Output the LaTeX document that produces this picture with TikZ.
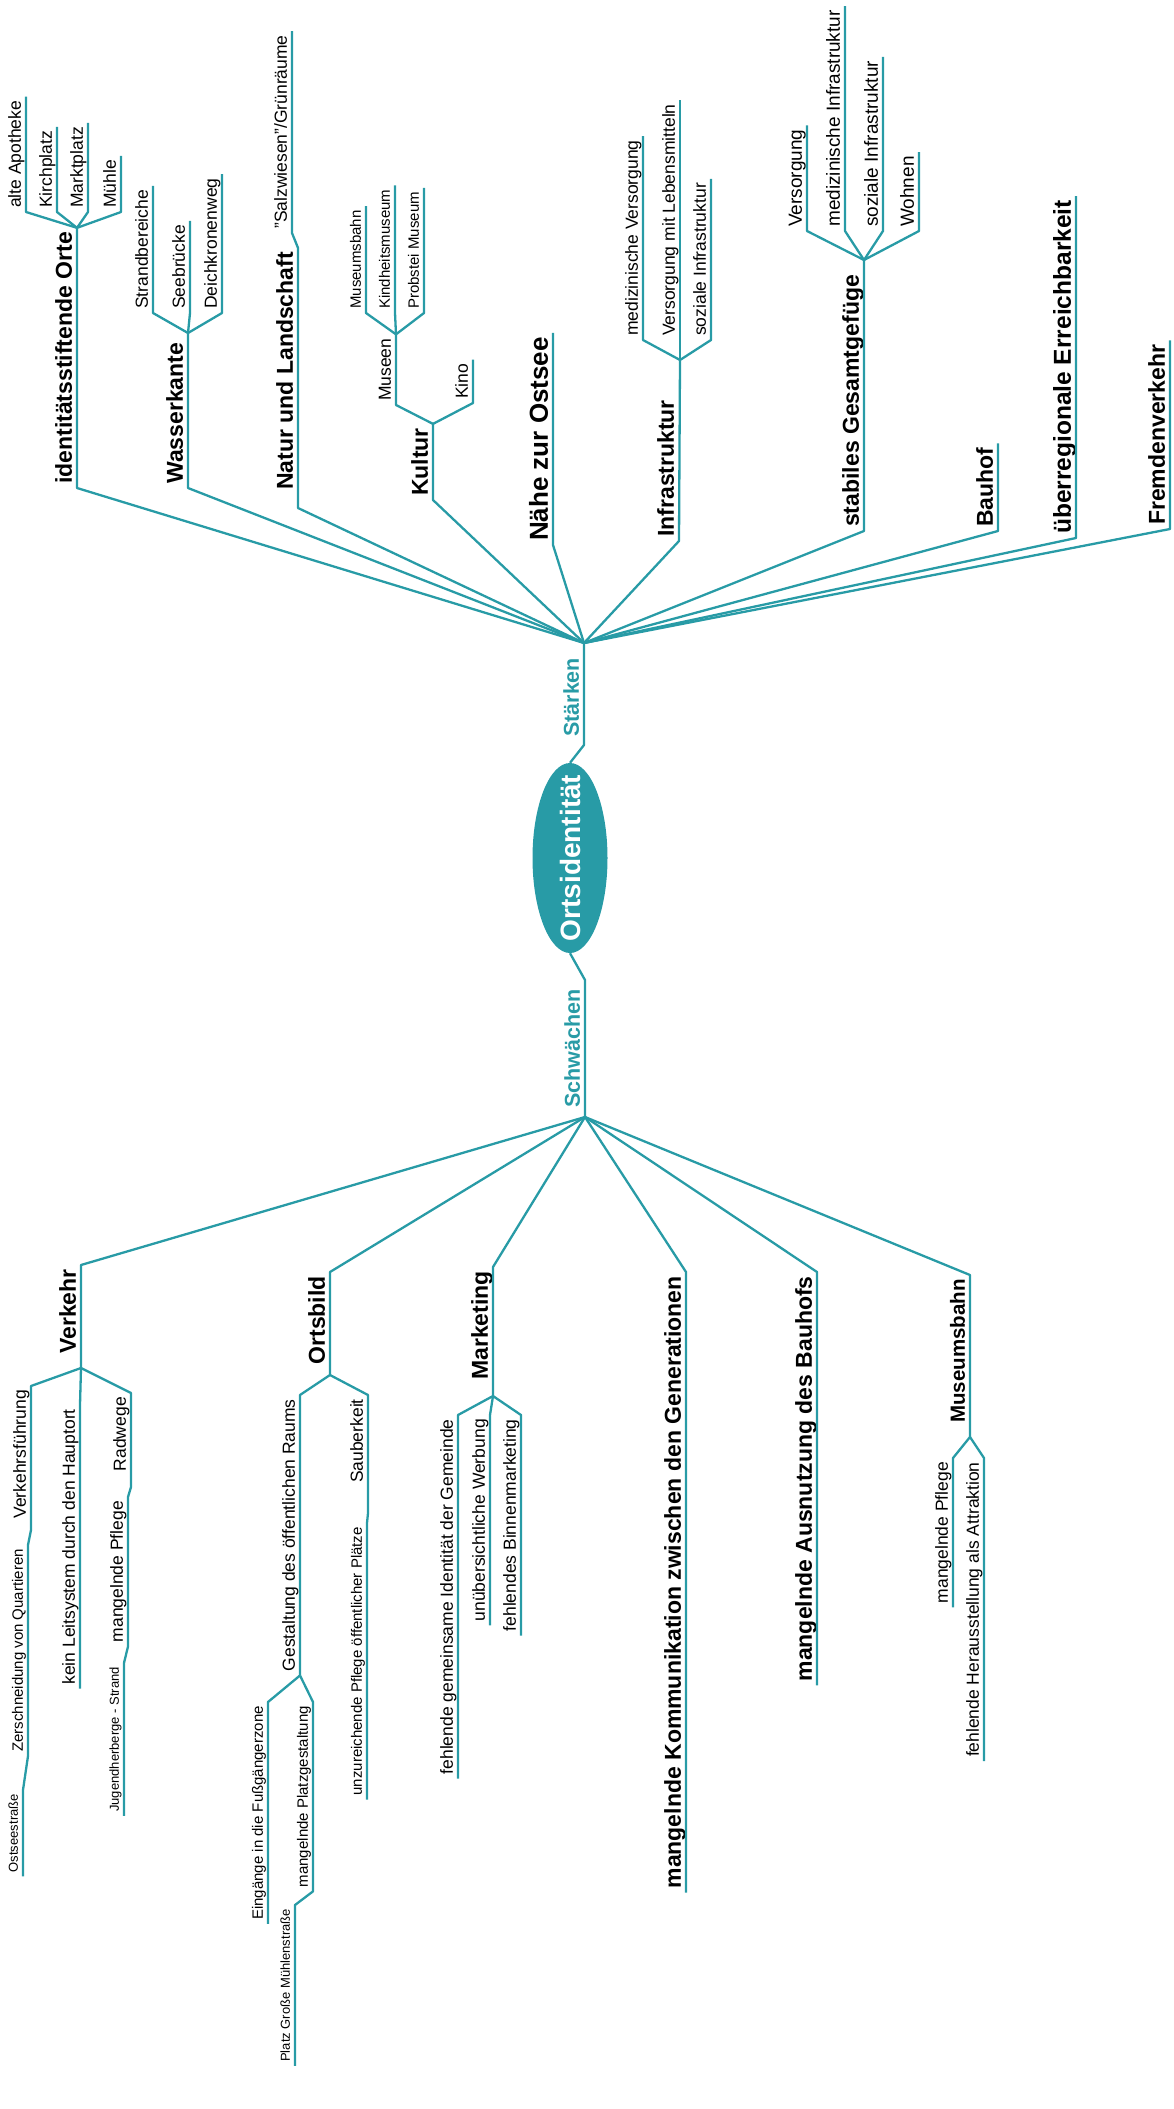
\documentclass[tikz,border=0pt]{standalone}
\usepackage{fontspec}
\setmainfont{Liberation Sans}
\usetikzlibrary{shapes.geometric}
\definecolor{mapteal}{RGB}{40,155,166}

\begin{document}
\begin{tikzpicture}[x=1pt, y=-1pt,
    branch/.style={draw=mapteal, line width=2.3pt, line join=round},
    lbl/.style={rotate=90, inner xsep=4pt, inner ysep=5pt, text depth=0pt},
    topic/.style={lbl, font=\fontsize{23}{27}\selectfont\bfseries},
    leaf/.style={lbl, font=\fontsize{17.5}{21}\selectfont},
    twig/.style={lbl, font=\fontsize{15}{18}\selectfont},
    smallleaf/.style={lbl, font=\fontsize{13}{16}\selectfont}]
\useasboundingbox (0,0) rectangle (1173,2109);

% centre and the two stems
\node[ellipse, fill=mapteal, rotate=90, minimum width=190pt, minimum height=75pt, inner sep=0pt, text=white, font=\fontsize{28}{32}\selectfont\bfseries] (ortsid) at (570,858) {\makebox[110pt]{Ortsidentität}};
\coordinate (sJ) at (584,643);
\coordinate (wJ) at (585,1117);
\draw[branch] (ortsid.east) -- (584,745) -- (sJ);
\draw[branch] (ortsid.west) -- (585,980) -- (wJ);
\node[lbl, anchor=south west, text=mapteal, font=\fontsize{21.5}{25}\selectfont\bfseries] (staerken) at (584,741) {Stärken};
\node[lbl, anchor=south west, text=mapteal, font=\fontsize{21.5}{25}\selectfont\bfseries] (schwaechen) at (585,1112) {Schwächen};

%% Staerken, growing upwards
\node[topic, anchor=south west] (orte) at (77,488) {identitätsstiftende Orte};
\draw[branch] (sJ) -- (orte.south west) -- (orte.south east);
\node[leaf, anchor=south west] (apotheke) at (26,212) {alte Apotheke};
\node[leaf, anchor=south west] (kirchplatz) at (57,212) {Kirchplatz};
\node[leaf, anchor=south west] (marktplatz) at (88,212) {Marktplatz};
\node[leaf, anchor=south west] (muehle) at (121,212) {Mühle};
\draw[branch] (orte.south east) -- (apotheke.south west) -- (apotheke.south east);
\draw[branch] (orte.south east) -- (kirchplatz.south west) -- (kirchplatz.south east);
\draw[branch] (orte.south east) -- (marktplatz.south west) -- (marktplatz.south east);
\draw[branch] (orte.south east) -- (muehle.south west) -- (muehle.south east);

\node[topic, anchor=south west] (wasser) at (188,488) {Wasserkante};
\coordinate (wasserJ) at (188,333);
\draw[branch] (sJ) -- (wasser.south west) -- (wasserJ);
\node[leaf, anchor=south west] (strand) at (153,313) {Strandbereiche};
\node[leaf, anchor=south west] (seebruecke) at (190,313) {Seebrücke};
\node[leaf, anchor=south west] (deich) at (222,313) {Deichkronenweg};
\draw[branch] (wasserJ) -- (strand.south west) -- (strand.south east);
\draw[branch] (wasserJ) -- (seebruecke.south west) -- (seebruecke.south east);
\draw[branch] (wasserJ) -- (deich.south west) -- (deich.south east);

\node[topic, anchor=south west] (natur) at (298,494) {Natur und Landschaft};
\node[leaf, anchor=south west] (salz) at (292,233) {"Salzwiesen"/Grünräume};
\draw[branch] (sJ) -- (298,508) -- (natur.south east) -- (salz.south west) -- (salz.south east);

\node[topic, anchor=south west] (kultur) at (433,500) {Kultur};
\draw[branch] (sJ) -- (kultur.south west) -- (kultur.south east);
\node[leaf, anchor=south west] (museen) at (396,405) {Museen};
\node[leaf, anchor=south west] (kino) at (473,403) {Kino};
\draw[branch] (kultur.south east) -- (museen.south west) -- (museen.south east);
\draw[branch] (kultur.south east) -- (kino.south west) -- (kino.south east);
\node[twig, anchor=south west] (bahn) at (366,313) {Museumsbahn};
\node[twig, anchor=south west] (kindheit) at (395,313) {Kindheitsmuseum};
\node[twig, anchor=south west] (probstei) at (424,313) {Probstei Museum};
\draw[branch] (museen.south east) -- (bahn.south west) -- (bahn.south east);
\draw[branch] (museen.south east) -- (kindheit.south west) -- (kindheit.south east);
\draw[branch] (museen.south east) -- (probstei.south west) -- (probstei.south east);

\node[topic, anchor=south west, font=\fontsize{26}{30}\selectfont\bfseries] (ostsee) at (553,545) {Nähe zur Ostsee};
\draw[branch] (sJ) -- (ostsee.south west) -- (ostsee.south east);

\node[topic, anchor=south west] (infra) at (679,541) {Infrastruktur};
\coordinate (infraJ) at (680,360);
\draw[branch] (sJ) -- (infra.south west) -- (infraJ);
\node[leaf, anchor=south west] (medvers) at (643,340) {medizinische Versorgung};
\node[leaf, anchor=south west] (lebensmittel) at (680,340) {Versorgung mit Lebensmitteln};
\node[leaf, anchor=south west] (sozinfra) at (711,340) {soziale Infrastruktur};
\draw[branch] (infraJ) -- (medvers.south west) -- (medvers.south east);
\draw[branch] (infraJ) -- (lebensmittel.south west) -- (lebensmittel.south east);
\draw[branch] (infraJ) -- (sozinfra.south west) -- (sozinfra.south east);

\node[topic, anchor=south west] (stabil) at (864,531) {stabiles Gesamtgefüge};
\coordinate (stabilJ) at (864,260);
\draw[branch] (sJ) -- (stabil.south west) -- (stabilJ);
\node[leaf, anchor=south west, font=\fontsize{19}{22}\selectfont] (versorgung) at (807,231) {Versorgung};
\node[leaf, anchor=south west, font=\fontsize{19}{22}\selectfont] (medinfra) at (845,231) {medizinische Infrastruktur};
\node[leaf, anchor=south west, font=\fontsize{19}{22}\selectfont] (sozinfrb) at (883,231) {soziale Infrastruktur};
\node[leaf, anchor=south west, font=\fontsize{19}{22}\selectfont] (wohnen) at (919,231) {Wohnen};
\draw[branch] (stabilJ) -- (versorgung.south west) -- (versorgung.south east);
\draw[branch] (stabilJ) -- (medinfra.south west) -- (medinfra.south east);
\draw[branch] (stabilJ) -- (sozinfrb.south west) -- (sozinfrb.south east);
\draw[branch] (stabilJ) -- (wohnen.south west) -- (wohnen.south east);

\node[topic, anchor=south west] (bauhof) at (998,531) {Bauhof};
\draw[branch] (sJ) -- (bauhof.south west) -- (bauhof.south east);
\node[topic, anchor=south west, font=\fontsize{24.5}{28}\selectfont\bfseries] (erreich) at (1076,538) {überregionale Erreichbarkeit};
\draw[branch] (sJ) -- (erreich.south west) -- (erreich.south east);
\node[topic, anchor=south west] (fremd) at (1170,529) {Fremdenverkehr};
\draw[branch] (sJ) -- (fremd.south west) -- (fremd.south east);

%% Schwaechen, growing downwards
\node[topic, anchor=south east] (verkehr) at (81,1265) {Verkehr};
\coordinate (verkehrJ) at (81,1368);
\draw[branch] (wJ) -- (verkehr.south east) -- (verkehrJ);
\node[leaf, anchor=south east] (fuehrung) at (31,1386) {Verkehrsführung};
\node[twig, anchor=south east] (quartiere) at (28,1545) {Zerschneidung von Quartieren};
\node[smallleaf, anchor=south east] (ostseestr) at (23,1790) {Ostseestraße};
\draw[branch] (verkehrJ) -- (fuehrung.south east) -- (31,1530) -- (quartiere.south east) -- (quartiere.south west) -- (ostseestr.south east) -- (ostseestr.south west);
\node[leaf, anchor=south east] (leit) at (80,1405) {kein Leitsystem durch den Hauptort};
\draw[branch] (verkehrJ) -- (leit.south east) -- (leit.south west);
\node[leaf, anchor=south east] (radwege) at (131,1393) {Radwege};
\node[leaf, anchor=south east] (pflegea) at (128,1497) {mangelnde Pflege};
\node[smallleaf, anchor=south east] (jugend) at (124,1663) {Jugendherberge - Strand};
\draw[branch] (verkehrJ) -- (radwege.south east) -- (131,1487) -- (pflegea.south east) -- (pflegea.south west) -- (jugend.south east) -- (jugend.south west);

\node[topic, anchor=south east] (ortsbild) at (330,1272) {Ortsbild};
\coordinate (ortsbildJ) at (330,1375);
\draw[branch] (wJ) -- (ortsbild.south east) -- (ortsbildJ);
\node[leaf, anchor=south east] (gestaltung) at (300,1395) {Gestaltung des öffentlichen Raums};
\draw[branch] (ortsbildJ) -- (gestaltung.south east) -- (gestaltung.south west);
\node[twig, anchor=south east] (eingaenge) at (268,1702) {Eingänge in die Fußgängerzone};
\draw[branch] (gestaltung.south west) -- (eingaenge.south east) -- (eingaenge.south west);
\node[twig, anchor=south east] (platz) at (313,1702) {mangelnde Platzgestaltung};
\node[smallleaf, anchor=south east] (muehlenstr) at (295,1905) {Platz Große Mühlenstraße};
\draw[branch] (gestaltung.south west) -- (platz.south east) -- (platz.south west) -- (muehlenstr.south east) -- (muehlenstr.south west);
\node[leaf, anchor=south east] (sauber) at (368,1395) {Sauberkeit};
\node[twig, anchor=south east] (plaetze) at (367,1523) {unzureichende Pflege öffentlicher Plätze};
\draw[branch] (ortsbildJ) -- (sauber.south east) -- (368,1513) -- (plaetze.south east) -- (plaetze.south west);

\node[topic, anchor=south east] (marketing) at (493,1267) {Marketing};
\coordinate (marketingJ) at (493,1396);
\draw[branch] (wJ) -- (marketing.south east) -- (marketingJ);
\node[leaf, anchor=south east] (identitaet) at (458,1415) {fehlende gemeinsame Identität der Gemeinde};
\node[leaf, anchor=south east] (werbung) at (490,1415) {unübersichtliche Werbung};
\node[leaf, anchor=south east] (binnen) at (521,1415) {fehlendes Binnenmarketing};
\draw[branch] (marketingJ) -- (identitaet.south east) -- (identitaet.south west);
\draw[branch] (marketingJ) -- (werbung.south east) -- (werbung.south west);
\draw[branch] (marketingJ) -- (binnen.south east) -- (binnen.south west);

\node[topic, anchor=south east] (generationen) at (686,1272) {mangelnde Kommunikation zwischen den Generationen};
\draw[branch] (wJ) -- (generationen.south east) -- (generationen.south west);
\node[topic, anchor=south east] (ausnutzung) at (817,1272) {mangelnde Ausnutzung des Bauhofs};
\draw[branch] (wJ) -- (ausnutzung.south east) -- (ausnutzung.south west);

\node[topic, anchor=south east, font=\fontsize{20.5}{24}\selectfont\bfseries] (museumsbahn) at (970,1275) {Museumsbahn};
\coordinate (museumJ) at (970,1437);
\draw[branch] (wJ) -- (museumsbahn.south east) -- (museumJ);
\node[leaf, anchor=south east] (pflegeb) at (953,1458) {mangelnde Pflege};
\node[leaf, anchor=south east] (attraktion) at (984,1458) {fehlende Herausstellung als Attraktion};
\draw[branch] (museumJ) -- (pflegeb.south east) -- (pflegeb.south west);
\draw[branch] (museumJ) -- (attraktion.south east) -- (attraktion.south west);
\end{tikzpicture}
\end{document}
